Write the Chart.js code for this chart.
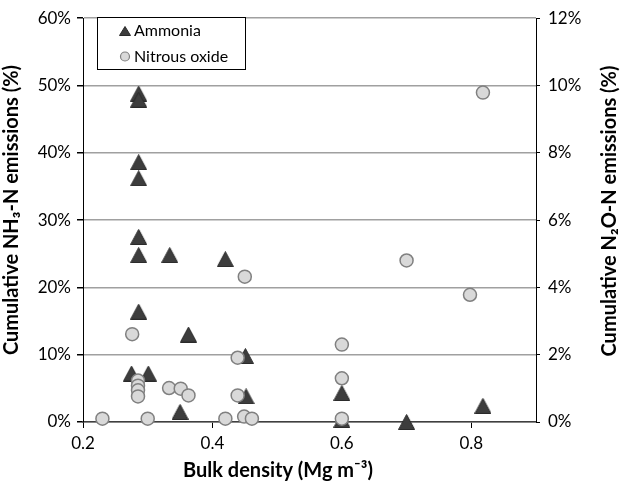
<!DOCTYPE html>
<html>
<head>
<meta charset="utf-8">
<script src="https://cdn.jsdelivr.net/npm/chart.js@4.4.1/dist/chart.umd.min.js"></script>
<style>
	body { margin: 0; background: #fff; }
	#myChart { display: block; }
</style>
</head>
<body>
<canvas id="myChart" width="625" height="486"></canvas>
<script>
// bulk density (Mg m-3) / cumulative NH3-N (%)
var ammoniaDensity  = [0.286, 0.286, 0.286, 0.286, 0.286, 0.286, 0.334, 0.420, 0.286, 0.363, 0.451, 0.275, 0.301, 0.452, 0.350, 0.600, 0.600, 0.700, 0.818];
var ammoniaEmission = [48.8, 47.9, 38.6, 36.2, 27.5, 24.8, 24.8, 24.2, 16.4, 13.0, 9.8, 7.2, 7.2, 3.8, 1.5, 4.3, 0.3, 0.0, 2.4];

// bulk density (Mg m-3) / cumulative N2O-N (%)
var n2oDensity  = [0.230, 0.276, 0.285, 0.285, 0.285, 0.285, 0.300, 0.333, 0.351, 0.363, 0.420, 0.439, 0.439, 0.449, 0.450, 0.461, 0.600, 0.600, 0.600, 0.700, 0.798, 0.818];
var n2oEmission = [0.10, 2.61, 1.23, 1.08, 0.94, 0.76, 0.10, 1.01, 0.99, 0.79, 0.10, 1.91, 0.79, 0.16, 4.32, 0.10, 2.30, 1.30, 0.10, 4.80, 3.78, 9.79];

var seriesNames = ['Ammonia', 'Nitrous oxide'];
var xTicks = [0.2, 0.4, 0.6, 0.8];
var xTitle = 'Bulk density (Mg m\u207B\u00B3)';
var yTitle = 'Cumulative NH\u2083-N emissions (%)';
var y2Title = 'Cumulative N\u2082O-N emissions (%)';

var FONT = "Lato, 'Noto Sans', sans-serif";

function toPoints(xs, ys) {
	var pts = [];
	for (var i = 0; i < xs.length; i++) {
		pts.push({ x: xs[i], y: ys[i] });
	}
	return pts;
}

// triangle marker centred on its box (like the office marker)
function makeTriangle(w, h) {
	var c = document.createElement('canvas');
	c.width = w;
	c.height = h;
	var g = c.getContext('2d');
	g.beginPath();
	g.moveTo(w / 2, 0.5);
	g.lineTo(w - 0.5, h - 0.5);
	g.lineTo(0.5, h - 0.5);
	g.closePath();
	g.fillStyle = '#3d3d3d';
	g.fill();
	g.strokeStyle = '#2a2a2a';
	g.lineWidth = 1;
	g.stroke();
	return c;
}

var triMarker = makeTriangle(17, 16);
var triLegend = makeTriangle(12, 10);

var legendBox = {
	id: 'legendBox',
	afterDraw: function(chart) {
		var ctx = chart.ctx;
		ctx.save();
		ctx.fillStyle = '#fff';
		ctx.fillRect(98, 18, 148, 52);
		ctx.strokeStyle = '#000';
		ctx.lineWidth = 1;
		ctx.strokeRect(97.5, 17.5, 148, 52);

		ctx.drawImage(triLegend, 125 - 6, 31 - 5);
		ctx.beginPath();
		ctx.arc(125, 56.5, 4.5, 0, Math.PI * 2);
		ctx.fillStyle = '#d9d9d9';
		ctx.fill();
		ctx.strokeStyle = '#808080';
		ctx.lineWidth = 1.2;
		ctx.stroke();

		ctx.fillStyle = '#000';
		ctx.font = '16px ' + FONT;
		ctx.textAlign = 'left';
		ctx.textBaseline = 'middle';
		ctx.fillText(seriesNames[0], 134, 31);
		ctx.fillText(seriesNames[1], 134, 57);
		ctx.restore();
	}
};

var axisTitles = {
	id: 'axisTitles',
	afterDraw: function(chart) {
		var ctx = chart.ctx;
		ctx.save();
		ctx.fillStyle = '#000';
		ctx.font = 'bold 20px ' + FONT;
		ctx.textAlign = 'center';
		ctx.textBaseline = 'middle';
		ctx.fillText(xTitle, 278, 471);

		ctx.translate(12, 210);
		ctx.rotate(-Math.PI / 2);
		ctx.fillText(yTitle, 0, 0);
		ctx.restore();

		ctx.save();
		ctx.fillStyle = '#000';
		ctx.font = 'bold 20px ' + FONT;
		ctx.textAlign = 'center';
		ctx.textBaseline = 'middle';
		ctx.translate(610, 211);
		ctx.rotate(-Math.PI / 2);
		ctx.fillText(y2Title, 0, 0);
		ctx.restore();
	}
};

var tickFont = { family: FONT, size: 17 };

var config = {
	type: 'scatter',
	data: {
		datasets: [
			{
				label: seriesNames[0],
				data: toPoints(ammoniaDensity, ammoniaEmission),
				yAxisID: 'y',
				pointStyle: triMarker,
				pointRadius: 8,
				clip: false,
				order: 1
			},
			{
				label: seriesNames[1],
				data: toPoints(n2oDensity, n2oEmission),
				yAxisID: 'y2',
				pointStyle: 'circle',
				pointRadius: 6.5,
				backgroundColor: '#d9d9d9',
				borderColor: '#808080',
				borderWidth: 1.5,
				clip: false,
				order: 0
			}
		]
	},
	options: {
		responsive: false,
		animation: false,
		layout: { padding: { top: 10, left: 0, right: 0, bottom: 0 } },
		plugins: {
			legend: { display: false },
			tooltip: { enabled: false }
		},
		scales: {
			x: {
				type: 'linear',
				position: 'bottom',
				min: 0.2,
				max: 0.9,
				afterBuildTicks: function(scale) {
					scale.ticks = xTicks.map(function(v) { return { value: v }; });
				},
				afterFit: function(scale) { scale.height = 64; },
				grid: {
					drawOnChartArea: false,
					tickLength: 6,
					tickColor: '#000'
				},
				border: { color: '#404040', width: 1.5 },
				ticks: {
					color: '#000',
					font: tickFont,
					padding: 5,
					callback: function(v) { return Number(v).toFixed(1); }
				}
			},
			y: {
				position: 'left',
				min: 0,
				max: 60,
				afterFit: function(scale) { scale.width = 83; },
				grid: {
					color: '#a0a0a0',
					lineWidth: 1.5,
					tickLength: 6,
					tickColor: '#000'
				},
				border: { color: '#000', width: 1 },
				ticks: {
					stepSize: 10,
					color: '#000',
					font: tickFont,
					padding: 6,
					callback: function(v) { return v + '%'; }
				}
			},
			y2: {
				position: 'right',
				min: 0,
				max: 12,
				afterFit: function(scale) { scale.width = 89; },
				grid: {
					drawOnChartArea: false,
					tickLength: 4,
					tickColor: '#000'
				},
				border: { color: '#000', width: 1 },
				ticks: {
					stepSize: 2,
					color: '#000',
					font: tickFont,
					padding: 8,
					callback: function(v) { return v + '%'; }
				}
			}
		}
	},
	plugins: [legendBox, axisTitles]
};

var myChart = new Chart(document.getElementById('myChart'), config);
</script>
</body>
</html>
